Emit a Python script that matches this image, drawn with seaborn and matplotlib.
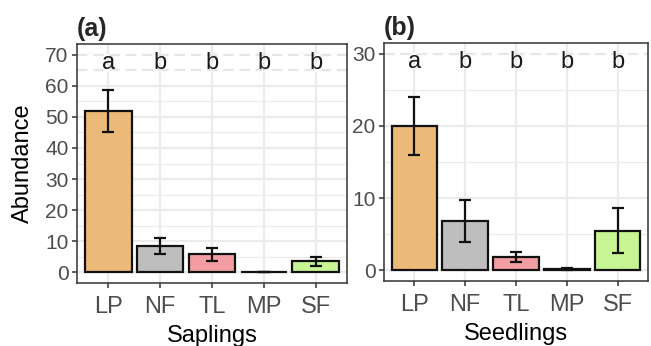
import matplotlib
matplotlib.use("Agg")
import matplotlib.pyplot as plt
import seaborn as sns
import pandas as pd
from matplotlib.ticker import MultipleLocator

sns.set_theme(style="white")
plt.rcParams['font.family'] = ['Liberation Sans', 'DejaVu Sans']

categories = ["LP", "NF", "TL", "MP", "SF"]
colors = ["#EBB978", "#BEBEBE", "#F49DA3", "#BEBEBE", "#C8F594"]
letters = ["a", "b", "b", "b", "b"]

saplings_mean = [52.0, 8.3, 5.7, 0.0, 3.5]
saplings_se = [6.7, 2.6, 2.1, 0.0, 1.4]
seedlings_mean = [20.0, 6.8, 1.8, 0.2, 5.5]
seedlings_se = [4.0, 2.9, 0.7, 0.15, 3.1]

W, H = 651, 346
fig = plt.figure(figsize=(W / 100, H / 100), dpi=100)

def px_axes(l, r, t, b):
    return fig.add_axes([l / W, 1 - b / H, (r - l) / W, (b - t) / H])

ax1 = px_axes(77, 347, 44, 283)
ax2 = px_axes(384, 648, 43, 281)

panels = [
    (ax1, saplings_mean, saplings_se, "Saplings", (-3.5, 73.5), 10, 67.3, [65, 70], "(a)"),
    (ax2, seedlings_mean, seedlings_se, "Seedlings", (-1.5, 31.5), 10, 28.9, [30], "(b)"),
]

for ax, means, ses, xlabel, ylim, major, ytext, dashed, tag in panels:
    df = pd.DataFrame({"cat": categories, "val": means})
    ax.set_axisbelow(True)
    sns.barplot(data=df, x="cat", y="val", hue="cat", palette=colors,
                order=categories, hue_order=categories, legend=False,
                edgecolor="#111111", linewidth=1.6, width=0.9, ax=ax,
                errorbar=None, saturation=1)
    ax.errorbar(range(len(categories)), means, yerr=ses, fmt="none",
                ecolor="#111111", elinewidth=1.6, capsize=4.2, capthick=1.6,
                zorder=5)
    for i, lab in enumerate(letters):
        ax.text(i, ytext, lab, ha="center", va="center", fontsize=17,
                color="#1a1a1a")
    ax.set_xlim(-0.6, 4.6)
    ax.set_ylim(*ylim)
    ax.yaxis.set_major_locator(MultipleLocator(major))
    ax.yaxis.set_minor_locator(MultipleLocator(major / 2))
    ax.grid(which="major", color="#EBEBEB", linewidth=1.6)
    ax.grid(which="minor", axis="y", color="#EBEBEB", linewidth=0.8)
    for yv in dashed:
        ax.axhline(yv, color="white", linewidth=2.0, zorder=0.6)
        ax.axhline(yv, color="#E6E6E6", linewidth=1.5, linestyle=(0, (5, 2.8)),
                   zorder=0.7)
    for s in ax.spines.values():
        s.set_color("#333333")
        s.set_linewidth(1.1)
    ax.tick_params(axis="both", which="major", length=3.5, width=1.1,
                   color="#333333", labelcolor="#4D4D4D", labelsize=15,
                   pad=2.5, bottom=True, left=True)
    ax.tick_params(axis="x", labelsize=17, pad=6)
    ax.tick_params(which="minor", length=0)
    ax.set_xlabel(xlabel, fontsize=17, color="black", labelpad=5)
    ax.set_ylabel("")
    ax.text(0, 1.0 + 3 / ((281 - 43)), tag, transform=ax.transAxes, fontsize=18,
            fontweight="bold", ha="left", va="bottom")

ax1.set_ylabel("Abundance", fontsize=17, color="black", labelpad=8)

fig.savefig("out.png", dpi=100)
